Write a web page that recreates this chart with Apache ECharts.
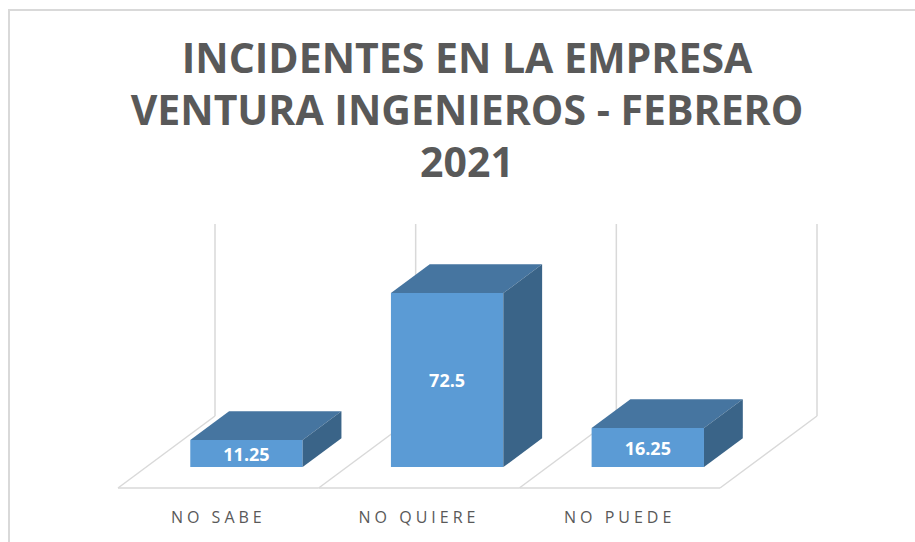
<!DOCTYPE html>
<html>
<head>
<meta charset="utf-8">
<script src="https://cdn.jsdelivr.net/npm/echarts@6/dist/echarts.min.js"></script>
<style>
  html, body { margin: 0; padding: 0; background: #fff; }
  #main { width: 915px; height: 542px; }
  /* category labels are letter-spaced like the Excel original */
  #main text[style*="16px"] { letter-spacing: 4px; }
</style>
</head>
<body>
<div id="main"></div>
<script>
// data
const categories = ['NO SABE', 'NO QUIERE', 'NO PUEDE'];
const values = [11.25, 72.5, 16.25];
const yMax = 80;
const titleLines = ['INCIDENTES EN LA EMPRESA', 'VENTURA INGENIEROS - FEBRERO', '2021'];

// fake 3D: pixel shift for the full floor depth
const DEPTH_X = 97, DEPTH_Y = -72;
const BAR_FRONT = 0.29, BAR_BACK = 0.69, BAR_WIDTH = 0.56;
const GRID_COLOR = '#d9d9d9';

function shift(p, d) {
  return [p[0] + DEPTH_X * d, p[1] + DEPTH_Y * d];
}

// floor outline + back wall lines, one piece per category
function renderFloor(params, api) {
  const idx = api.value(0);
  const c = api.coord([idx, 0]);
  const top = api.coord([idx, yMax]);
  const w = api.size([1, 0])[0];
  const style = { stroke: GRID_COLOR, lineWidth: 1.5 };
  const children = [{
    type: 'line',
    shape: { x1: c[0] - w / 2, y1: c[1], x2: c[0] + w / 2, y2: c[1] },
    style
  }];
  const edges = [c[0] - w / 2];
  if (idx === categories.length - 1) edges.push(c[0] + w / 2);
  edges.forEach(x => {
    const b = shift([x, c[1]], 1);
    const t = shift([x, top[1]], 1);
    children.push({ type: 'line', shape: { x1: x, y1: c[1], x2: b[0], y2: b[1] }, style });
    children.push({ type: 'line', shape: { x1: b[0], y1: b[1], x2: t[0], y2: t[1] }, style });
  });
  return { type: 'group', children };
}

// 3D box: front, top and right side faces + value label
function renderBar(params, api) {
  const idx = api.value(0);
  const val = api.value(1);
  const base = api.coord([idx, 0]);
  const top = api.coord([idx, val]);
  const hw = api.size([1, 0])[0] * BAR_WIDTH / 2;
  const l = base[0] - hw, r = base[0] + hw;
  const ftl = shift([l, top[1]], BAR_FRONT), ftr = shift([r, top[1]], BAR_FRONT);
  const fbl = shift([l, base[1]], BAR_FRONT), fbr = shift([r, base[1]], BAR_FRONT);
  const btl = shift([l, top[1]], BAR_BACK), btr = shift([r, top[1]], BAR_BACK);
  const bbr = shift([r, base[1]], BAR_BACK);
  return {
    type: 'group',
    children: [
      { type: 'polygon', shape: { points: [ftl, ftr, fbr, fbl] }, style: { fill: '#5b9bd5' } },
      { type: 'polygon', shape: { points: [ftl, ftr, btr, btl] }, style: { fill: '#4675a0' } },
      { type: 'polygon', shape: { points: [ftr, btr, bbr, fbr] }, style: { fill: '#3a6488' } },
      {
        type: 'text',
        style: {
          text: String(val),
          x: (ftl[0] + ftr[0]) / 2,
          y: (ftl[1] + fbl[1]) / 2,
          align: 'center',
          verticalAlign: 'middle',
          fill: '#fff',
          fontSize: 18,
          fontWeight: 'bold',
          fontFamily: 'Open Sans'
        }
      }
    ]
  };
}

const chart = echarts.init(document.getElementById('main'), null, { renderer: 'svg' });

chart.setOption({
  animation: false,
  backgroundColor: '#fff',
  graphic: [
    {
      type: 'rect',
      shape: { x: 9, y: 10, width: 1000, height: 1000 },
      style: { fill: 'none', stroke: GRID_COLOR, lineWidth: 2 },
      silent: true
    },
    {
      type: 'text',
      x: 467,
      y: 31,
      style: {
        text: titleLines.join('\n'),
        align: 'center',
        verticalAlign: 'top',
        lineHeight: 52,
        fill: '#595959',
        fontSize: 41,
        fontWeight: 'bold',
        fontFamily: 'Open Sans'
      }
    }
  ],
  grid: { left: 118, right: 195, top: 296, bottom: 54 },
  xAxis: {
    type: 'category',
    data: categories,
    axisLine: { show: false },
    axisTick: { show: false },
    splitLine: { show: false },
    axisLabel: { margin: 21, color: '#595959', fontSize: 16, fontFamily: 'Open Sans' }
  },
  yAxis: {
    type: 'value',
    min: 0,
    max: yMax,
    show: false
  },
  series: [
    {
      type: 'custom',
      renderItem: renderFloor,
      data: categories.map((c, i) => [i]),
      silent: true,
      z: 1
    },
    {
      type: 'custom',
      renderItem: renderBar,
      data: values.map((v, i) => [i, v]),
      z: 2
    }
  ]
});
</script>
</body>
</html>
